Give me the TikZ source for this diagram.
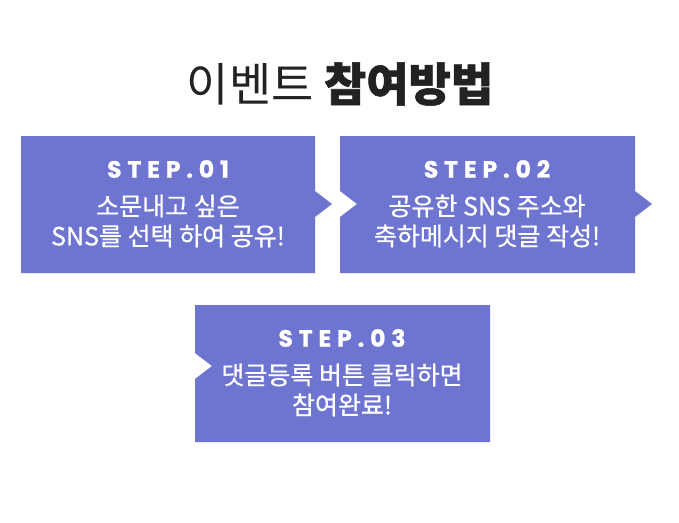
\documentclass[tikz,border=0pt]{standalone}
\usepackage{fontspec}
\setmainfont{Noto Sans CJK KR}
\newfontfamily\titlefont[BoldFeatures={FakeBold=1.2}]{Noto Sans CJK KR}
\newfontfamily\bodyfont[FakeBold=0.7]{Noto Sans CJK KR}
\newfontfamily\stepfont[LetterSpace=25,BoldFeatures={FakeBold=1}]{Poppins}
\definecolor{stepblue}{HTML}{6E75D1}
\definecolor{titlegray}{HTML}{222222}
\begin{document}
\begin{tikzpicture}[x=1pt,y=1pt,
  stepbox/.style={fill=stepblue,draw=none},
  steplabel/.style={text=white,inner sep=0pt,font=\stepfont\bfseries\fontsize{23.5}{23.5}\selectfont},
  bodytext/.style={text=white,inner sep=0pt,align=center,font=\bodyfont\fontsize{25}{30}\selectfont},
  titletext/.style={text=titlegray,inner sep=0pt,font=\titlefont\fontsize{46}{46}\selectfont}]
\useasboundingbox (0,0) rectangle (679,-522);
\fill[white] (0,0) rectangle (679,-522);
% boxes
\fill[stepbox] (21,-136) -- (315,-136) -- (315,-191) -- (332,-204) -- (315,-217) -- (315,-273) -- (21,-273) -- cycle;
\fill[stepbox] (340,-136) -- (635,-136) -- (635,-191) -- (652,-204) -- (635,-217) -- (635,-273) -- (340,-273) -- (340,-217) -- (357,-204) -- (340,-191) -- cycle;
\fill[stepbox] (195,-305) -- (490,-305) -- (490,-442) -- (195,-442) -- (195,-379) -- (212,-366) -- (195,-353) -- cycle;
% title
\node[titletext] (title) at (340,-84) {이벤트 \textbf{참여방법}};
% step 1
\node[steplabel] (s1) at (168,-169) {STEP.01};
\node[bodytext] (b1) at (168,-221) {소문내고 싶은\\SNS를 선택 하여 공유!};
% step 2
\node[steplabel] (s2) at (487,-169) {STEP.02};
\node[bodytext] (b2) at (487,-221) {공유한 SNS 주소와\\축하메시지 댓글 작성!};
% step 3
\node[steplabel] (s3) at (342,-338) {STEP.03};
\node[bodytext] (b3) at (342,-390) {댓글등록 버튼 클릭하면\\참여완료!};
\end{tikzpicture}
\end{document}
